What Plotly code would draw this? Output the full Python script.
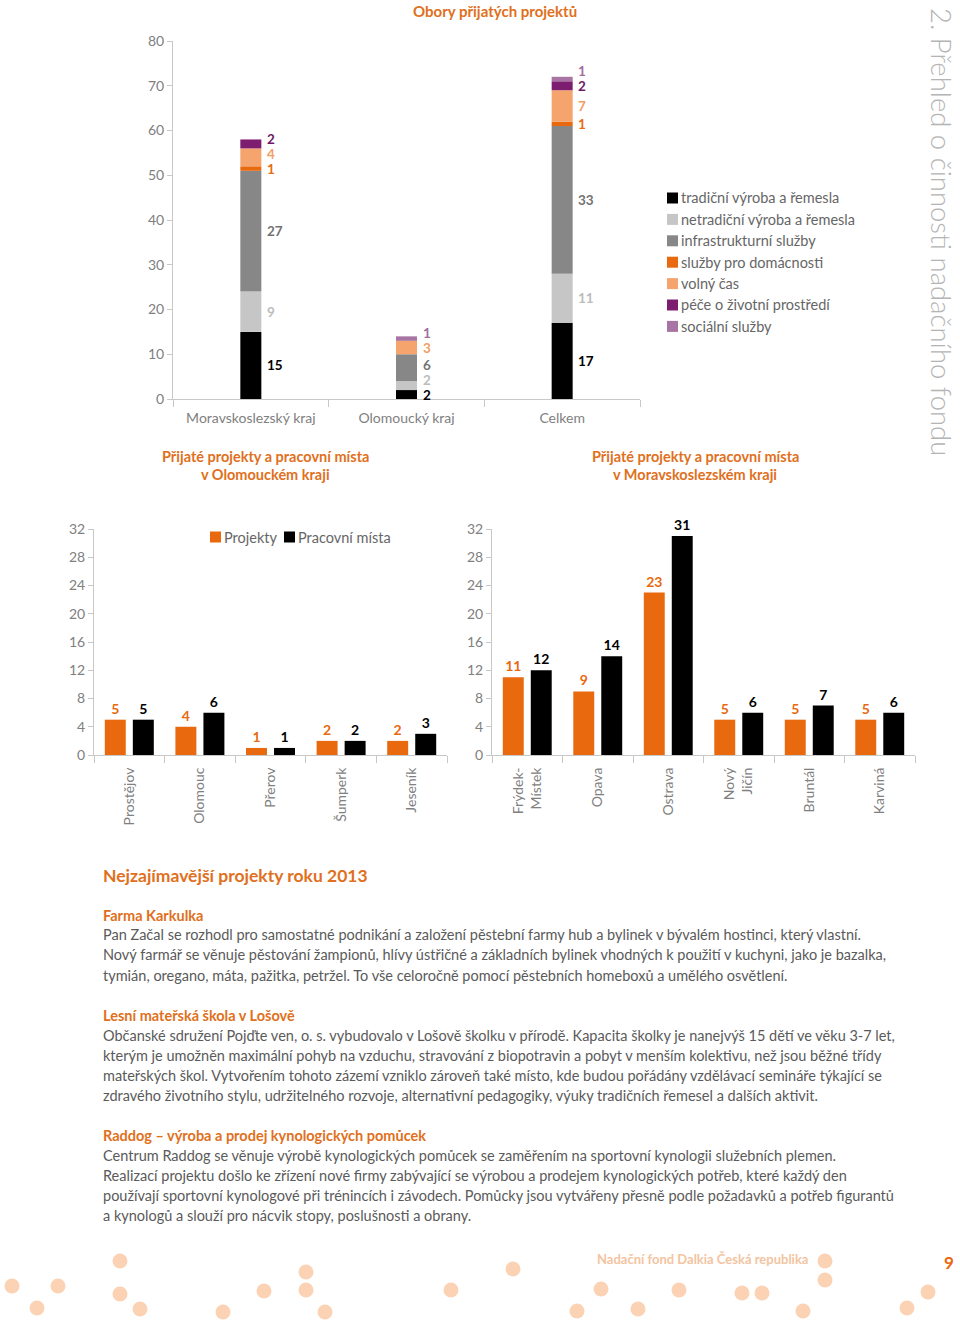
import plotly.graph_objects as go

W, H = 960, 1321

# ---------------- data ----------------
regions = ["Moravskoslezský kraj", "Olomoucký kraj", "Celkem"]
series_names = ["tradiční výroba a řemesla", "netradiční výroba a řemesla",
                "infrastrukturní služby", "služby pro domácnosti", "volný čas",
                "péče o životní prostředí", "sociální služby"]
tradicni = [15, 2, 17]
netradicni = [9, 2, 11]
infrastruktura = [27, 6, 33]
domacnosti = [1, 0, 1]
volny_cas = [4, 3, 7]
pece_prostredi = [2, 0, 2]
socialni = [0, 1, 1]

ol_districts = ["Prostějov", "Olomouc", "Přerov", "Šumperk", "Jeseník"]
ol_projekty = [5, 4, 1, 2, 2]
ol_mista = [5, 6, 1, 2, 3]

ms_districts = ["Frýdek-<br>Místek", "Opava", "Ostrava", "Nový<br>Jičín", "Bruntál", "Karviná"]
ms_projekty = [11, 9, 23, 5, 5, 5]
ms_mista = [12, 14, 31, 6, 7, 6]

top_ticks = [0, 10, 20, 30, 40, 50, 60, 70, 80]
bottom_ticks = [0, 4, 8, 12, 16, 20, 24, 28, 32]

# ---------------- styles ----------------
FONT = "Lato"
series_vals = [tradicni, netradicni, infrastruktura, domacnosti, volny_cas, pece_prostredi, socialni]
bar_colors = ["#000000", "#c6c6c6", "#878787", "#e8690e", "#f6a46e", "#7c1d6f", "#a874a3"]
label_colors = ["#000000", "#bcbcbc", "#737373", "#e8690e", "#f39e63", "#6e1a63", "#a36b9e"]
ORANGE = "#e8690e"
TITLE_ORANGE = "#e07020"
AXIS_C = "#c8c8c8"
TICK_FONT = dict(family=FONT, size=14, color="#808080")
TEXT_C = "#5a5a5a"


def px(x):
    return x / W


def py(y):
    return 1 - y / H


fig = go.Figure()

# ---------------- top stacked chart ----------------
bases = [0] * len(regions)
label_pos = [[] for _ in regions]
for name, vals, col, lcol in zip(series_names, series_vals, bar_colors, label_colors):
    fig.add_trace(go.Bar(x=regions, y=vals, base=list(bases), name=name,
                         marker=dict(color=col, line=dict(width=0)),
                         width=0.135, showlegend=False,
                         xaxis="x", yaxis="y", hoverinfo="x+y+name"))
    for i, v in enumerate(vals):
        if v > 0:
            label_pos[i].append((bases[i] + v / 2, v, lcol))
    bases = [b + v for b, v in zip(bases, vals)]

annotations = []
min_gap = 15 / (358 / 80)  # minimal label spacing in data units
for i, reg in enumerate(regions):
    last = -100
    for mid, v, lc in label_pos[i]:
        ly = max(mid, last + min_gap)
        last = ly
        annotations.append(dict(x=reg, y=ly, xref="x", yref="y", text=f"<b>{v}</b>",
                                showarrow=False, xanchor="left", yanchor="middle",
                                xshift=15, borderpad=0,
                                font=dict(family=FONT, size=13.5, color=lc)))

# ---------------- bottom grouped charts ----------------
BW = 0.297
for xs, proj, mist, xa, ya in [(ol_districts, ol_projekty, ol_mista, "x2", "y2"),
                               (ms_districts, ms_projekty, ms_mista, "x3", "y3")]:
    fig.add_trace(go.Bar(x=xs, y=proj, name="Projekty", width=BW, offset=-BW - 0.05,
                         marker=dict(color=ORANGE, line=dict(width=0)),
                         text=[f"<b>{v}</b>" for v in proj], textposition="outside",
                         textfont=dict(family=FONT, size=14, color=ORANGE),
                         cliponaxis=False, showlegend=False, xaxis=xa, yaxis=ya))
    fig.add_trace(go.Bar(x=xs, y=mist, name="Pracovní místa", width=BW, offset=0.05,
                         marker=dict(color="#000000", line=dict(width=0)),
                         text=[f"<b>{v}</b>" for v in mist], textposition="outside",
                         textfont=dict(family=FONT, size=14, color="#000000"),
                         cliponaxis=False, showlegend=False, xaxis=xa, yaxis=ya))

# ---------------- decorative footer dots ----------------
DOTS = [(12, 1286), (37, 1308), (58, 1286), (120, 1261), (120, 1294), (140, 1309),
        (223, 1312), (264, 1291), (306, 1272), (306, 1290), (325, 1312), (451, 1290),
        (513, 1269), (577, 1311), (601, 1289), (638, 1309), (679, 1290), (742, 1293),
        (762, 1293), (825, 1261), (825, 1280), (803, 1311), (907, 1308), (928, 1292)]
fig.add_trace(go.Scatter(x=[d[0] for d in DOTS], y=[d[1] for d in DOTS], mode="markers",
                         marker=dict(size=15, color="#fbd3b4", line=dict(width=0)),
                         cliponaxis=False, hoverinfo="skip", showlegend=False,
                         xaxis="x4", yaxis="y4"))

# ---------------- axes ----------------
common_y = dict(showgrid=False, zeroline=False, showline=True, linecolor=AXIS_C, linewidth=1,
                ticks="outside", ticklen=5, tickcolor=AXIS_C, tickfont=TICK_FONT,
                automargin=False, fixedrange=True)
common_x = dict(showgrid=False, zeroline=False, showline=True, linecolor=AXIS_C, linewidth=1,
                ticks="outside", tickson="boundaries", ticklen=7, tickcolor=AXIS_C,
                tickfont=TICK_FONT, type="category", automargin=False, fixedrange=True)

layout = dict(
    width=W, height=H, autosize=False, margin=dict(l=0, r=0, t=0, b=0, pad=0),
    paper_bgcolor="white", plot_bgcolor="rgba(0,0,0,0)", barmode="overlay",
    font=dict(family=FONT),
    xaxis=dict(domain=[px(173), px(640)], range=[-0.5, 2.5], anchor="y",
               ticklabelstandoff=6, **common_x),
    yaxis=dict(domain=[py(399), py(41)], range=[0, 80], tickvals=top_ticks, anchor="x", **common_y),
    xaxis2=dict(domain=[px(94), px(447)], range=[-0.5, 4.5], anchor="y2", tickangle=-90,
                ticklabelstandoff=6, **common_x),
    yaxis2=dict(domain=[py(755), py(529)], range=[0, 32], tickvals=bottom_ticks, anchor="x2", **common_y),
    xaxis3=dict(domain=[px(492), px(915)], range=[-0.5, 5.5], anchor="y3", tickangle=-90,
                ticklabelstandoff=6, **common_x),
    yaxis3=dict(domain=[py(755), py(529)], range=[0, 32], tickvals=bottom_ticks, anchor="x3", **common_y),
    xaxis4=dict(domain=[0, 1], range=[0, W], visible=False, anchor="y4", fixedrange=True,
                automargin=False),
    yaxis4=dict(domain=[0, 1], range=[H, 0], visible=False, anchor="x4", fixedrange=True,
                automargin=False),
)

shapes = []


def ptext(x, y, text, size=14, color=TEXT_C, xanchor="left", bold=False, **kw):
    t = f"<b>{text}</b>" if bold else text
    d = dict(x=px(x), y=py(y), xref="paper", yref="paper", text=t, showarrow=False,
             xanchor=xanchor, yanchor="middle", borderpad=0,
             font=dict(family=FONT, size=size, color=color))
    d.update(kw)
    annotations.append(d)


# top title
ptext(495, 11, "Obory přijatých projektů", size=15, color=TITLE_ORANGE, xanchor="center", bold=True)

# top legend
for k, (name, col) in enumerate(zip(series_names, bar_colors)):
    yc = 198 + k * 21.4
    shapes.append(dict(type="rect", xref="paper", yref="paper", x0=px(667), x1=px(678),
                       y0=py(yc + 5.5), y1=py(yc - 5.5), fillcolor=col, line=dict(width=0)))
    ptext(680, yc, name, size=14.5, color="#666666")

# bottom legend
for x0, col, name in [(210, ORANGE, "Projekty"), (284, "#000000", "Pracovní místa")]:
    shapes.append(dict(type="rect", xref="paper", yref="paper", x0=px(x0), x1=px(x0 + 11),
                       y0=py(537 + 5.5), y1=py(537 - 5.5), fillcolor=col, line=dict(width=0)))
    ptext(x0 + 13, 537, name, size=14.5, color="#666666")

# subtitles (two lines each)
for xc, l1, l2 in [(265, "Přijaté projekty a pracovní místa", "v Olomouckém kraji"),
                   (695, "Přijaté projekty a pracovní místa", "v Moravskoslezském kraji")]:
    ptext(xc, 457, l1, size=14.5, color=TITLE_ORANGE, xanchor="center", bold=True)
    ptext(xc, 474, l2, size=14.5, color=TITLE_ORANGE, xanchor="center", bold=True)

# side title
annotations.append(dict(x=px(942), y=py(232), xref="paper", yref="paper",
                        text="2. Přehled o činnosti nadačního fondu", showarrow=False,
                        textangle=90, xanchor="center", yanchor="middle",
                        font=dict(family=FONT, size=27.5, color="#b4b4b4", weight=300)))

# text section
ptext(102, 875, "Nejzajímavější projekty roku 2013", size=17.5, color=TITLE_ORANGE, bold=True)

paragraphs = [
    (915, "Farma Karkulka", [
        "Pan Začal se rozhodl pro samostatné podnikání a založení pěstební farmy hub a bylinek v bývalém hostinci, který vlastní.",
        "Nový farmář se věnuje pěstování žampionů, hlívy ústřičné a základních bylinek vhodných k použití v kuchyni, jako je bazalka,",
        "tymián, oregano, máta, pažitka, petržel. To vše celoročně pomocí pěstebních homeboxů a umělého osvětlení.",
    ]),
    (1015, "Lesní mateřská škola v Lošově", [
        "Občanské sdružení Pojďte ven, o. s. vybudovalo v Lošově školku v přírodě. Kapacita školky je nanejvýš 15 dětí ve věku 3-7 let,",
        "kterým je umožněn maximální pohyb na vzduchu, stravování z biopotravin a pobyt v menším kolektivu, než jsou běžné třídy",
        "mateřských škol. Vytvořením tohoto zázemí vzniklo zároveň také místo, kde budou pořádány vzdělávací semináře týkající se",
        "zdravého životního stylu, udržitelného rozvoje, alternativní pedagogiky, výuky tradičních řemesel a dalších aktivit.",
    ]),
    (1135, "Raddog – výroba a prodej kynologických pomůcek", [
        "Centrum Raddog se věnuje výrobě kynologických pomůcek se zaměřením na sportovní kynologii služebních plemen.",
        "Realizací projektu došlo ke zřízení nové firmy zabývající se výrobou a prodejem kynologických potřeb, které každý den",
        "používají sportovní kynologové při trénincích i závodech. Pomůcky jsou vytvářeny přesně podle požadavků a potřeb figurantů",
        "a kynologů a slouží pro nácvik stopy, poslušnosti a obrany.",
    ]),
]
for y0, head, lines in paragraphs:
    ptext(102, y0, head, size=14.5, color=TITLE_ORANGE, bold=True)
    for j, line in enumerate(lines):
        ptext(102, y0 + 20 * (j + 1), line, size=14.5, color=TEXT_C)

# footer
ptext(702, 1259, "Nadační fond Dalkia Česká republika", size=13, color="#f3c4a0",
      xanchor="center", bold=True)
ptext(949, 1262, "9", size=17, color=ORANGE, xanchor="center", bold=True)

layout["annotations"] = annotations
layout["shapes"] = shapes
fig.update_layout(**layout)

# remove the default page margin so the 960x1321 figure fills the window exactly
fig.write_html("out.html",
               config={"displayModeBar": False, "staticPlot": True},
               post_script="document.body.style.margin='0';document.body.style.overflow='hidden';")
